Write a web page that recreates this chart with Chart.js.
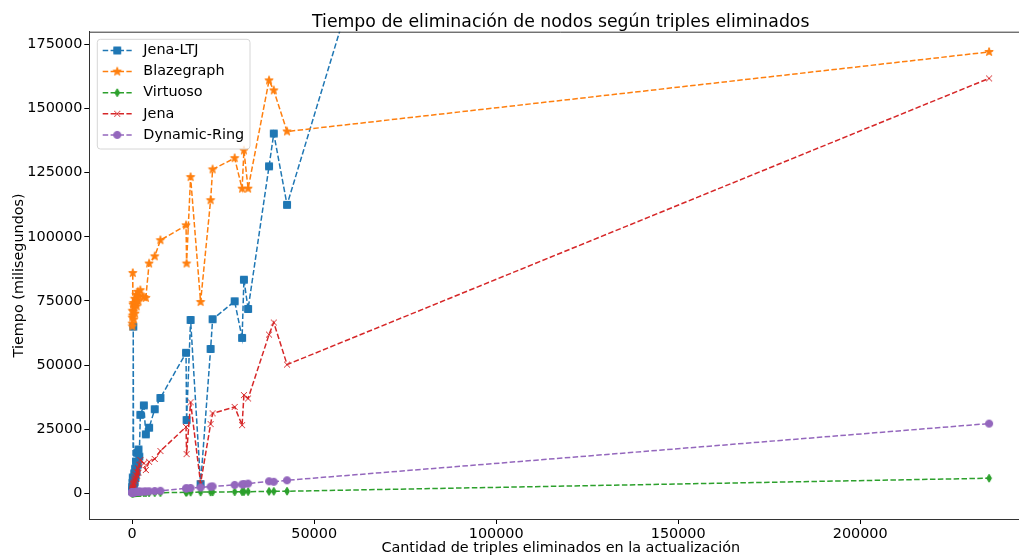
<!DOCTYPE html>
<html>
<head>
<meta charset="utf-8">
<script src="https://cdn.jsdelivr.net/npm/chart.js@4.4.1/dist/chart.umd.min.js"></script>
<style>
  html, body { margin: 0; padding: 0; overflow: hidden; background: #fff; }
  #wrap { width: 1019px; height: 556px; overflow: hidden; }
</style>
</head>
<body>
<div id="wrap"><canvas id="myChart" width="1040" height="556"></canvas></div>
<script>
// triples eliminados por actualizacion (eje x)
var xValues = [15, 30, 50, 80, 120, 170, 230, 300, 380, 470, 570, 680, 800, 930, 1070, 1220, 1380, 1550, 1730, 1950,
  2250, 3200, 3750, 4650, 6200, 7750, 14800, 14950, 16050, 18800, 21550, 22100, 28150, 30200, 30700, 31850,
  37600, 38900, 42550, 235400];

// tiempos en milisegundos
var jenaLtj = [1200, 2500, 800, 4100, 1900, 6200, 3000, 65000, 5200, 2400, 7800, 4300, 9600, 6100, 12400, 8300, 15800, 11200, 17100, 14300,
  30600, 34300, 23000, 25600, 32800, 37200, 54800, 28600, 67600, 3600, 56300, 67900, 74900, 60600, 83300, 71900,
  127500, 140300, 112500, 1015000];
var blazegraph = [66200, 68500, 65100, 71200, 69300, 85900, 73600, 70800, 74200, 67800, 72500, 75900, 70100, 73800, 77400, 72900, 75300, 78600, 74800, 76900,
  79200, 76500, 76200, 89600, 92400, 98700, 104500, 89600, 123300, 74600, 114300, 126300, 130700, 118800, 133700, 118800,
  161000, 157100, 141100, 172100];
var virtuoso = [60, 80, 70, 90, 85, 100, 95, 110, 105, 120, 115, 130, 125, 140, 135, 150, 145, 160, 155, 170,
  160, 170, 180, 200, 220, 250, 400, 420, 450, 480, 500, 520, 600, 620, 640, 660,
  750, 780, 820, 5900];
var jena = [900, 1800, 1200, 2700, 1500, 3600, 2200, 4300, 3100, 5400, 3800, 6200, 4700, 7300, 5600, 8400, 6900, 9800, 8100, 11200,
  13000, 11700, 9100, 12300, 13400, 16500, 25900, 15300, 35500, 3900, 27000, 31200, 33700, 26600, 38300, 37000,
  61900, 66600, 50200, 161800];
var dynamicRing = [300, 350, 320, 380, 360, 420, 400, 450, 430, 480, 460, 520, 500, 550, 540, 590, 570, 620, 610, 660,
  680, 700, 750, 800, 900, 1000, 1900, 2000, 2100, 2300, 2600, 2700, 3300, 3500, 3600, 3800,
  4700, 4500, 5100, 27200];

var xTicks = [0, 50000, 100000, 150000, 200000];
var yTicks = [0, 25000, 50000, 75000, 100000, 125000, 150000, 175000];

var FONT = '"DejaVu Sans"';
var DASH = [5.5, 2.4];

// marcadores estilo matplotlib dibujados en un canvas pequeño
function marker(kind, color) {
  var s = 14, m = 7;
  var c = document.createElement('canvas');
  c.width = s; c.height = s;
  var g = c.getContext('2d');
  g.fillStyle = color; g.strokeStyle = color; g.lineWidth = 1;
  g.beginPath();
  if (kind === 'square') {
    g.rect(m - 3.5, m - 3.5, 7, 7);
  } else if (kind === 'circle') {
    g.arc(m, m, 3.6, 0, Math.PI * 2);
  } else if (kind === 'star') {
    for (var k = 0; k < 10; k++) {
      var r = k % 2 ? 1.8 : 4.4;
      var a = -Math.PI / 2 + k * Math.PI / 5;
      g.lineTo(m + r * Math.cos(a), m + r * Math.sin(a));
    }
  } else if (kind === 'diamond') {
    g.moveTo(m, m - 4); g.lineTo(m + 2.4, m); g.lineTo(m, m + 4); g.lineTo(m - 2.4, m);
  } else if (kind === 'x') {
    g.moveTo(m - 3, m - 3); g.lineTo(m + 3, m + 3);
    g.moveTo(m + 3, m - 3); g.lineTo(m - 3, m + 3);
    g.stroke();
    return c;
  }
  g.closePath();
  g.fill();
  g.stroke();
  return c;
}

var series = [
  { label: "Jena-LTJ", data: jenaLtj, color: "#1f77b4", mark: "square" },
  { label: "Blazegraph", data: blazegraph, color: "#ff7f0e", mark: "star" },
  { label: "Virtuoso", data: virtuoso, color: "#2ca02c", mark: "diamond" },
  { label: "Jena", data: jena, color: "#d62728", mark: "x" },
  { label: "Dynamic-Ring", data: dynamicRing, color: "#9467bd", mark: "circle" }
];

var datasets = series.map(function (s, i) {
  s.img = marker(s.mark, s.color);
  return {
    label: s.label,
    data: xValues.map(function (x, j) { return { x: x, y: s.data[j] }; }),
    borderColor: s.color,
    backgroundColor: s.color,
    borderWidth: 1.5,
    borderDash: DASH,
    pointStyle: s.img,
    pointRadius: 3,
    order: series.length - i,
    tension: 0
  };
});

// titulo, marco y leyenda a mano
var decor = {
  id: 'decor',
  afterDraw: function (chart) {
    var ctx = chart.ctx, a = chart.chartArea;
    ctx.save();
    ctx.strokeStyle = '#333';
    ctx.lineWidth = 1;
    ctx.beginPath();
    ctx.moveTo(a.left, a.top + 0.5);
    ctx.lineTo(a.right, a.top + 0.5);
    ctx.stroke();

    ctx.fillStyle = '#000';
    ctx.font = '17.3px ' + FONT;
    ctx.textAlign = 'center';
    ctx.textBaseline = 'alphabetic';
    ctx.fillText('Tiempo de eliminación de nodos según triples eliminados', (a.left + a.right) / 2, 26.5);

    // leyenda
    var bx = 97.3, by = 39.3, bw = 152.7, bh = 109.7;
    ctx.beginPath();
    ctx.roundRect(bx, by, bw, bh, 3);
    ctx.fillStyle = 'rgba(255,255,255,0.8)';
    ctx.fill();
    ctx.strokeStyle = '#d6d6d6';
    ctx.stroke();

    ctx.font = '14.4px ' + FONT;
    ctx.textAlign = 'left';
    ctx.textBaseline = 'middle';
    series.forEach(function (s, i) {
      var y = 50.5 + i * 21.1;
      ctx.strokeStyle = s.color;
      ctx.lineWidth = 1.5;
      ctx.setLineDash(DASH);
      ctx.beginPath();
      ctx.moveTo(102.7, y);
      ctx.lineTo(131.7, y);
      ctx.stroke();
      ctx.setLineDash([]);
      ctx.drawImage(s.img, 117.2 - 7, y - 7);
      ctx.fillStyle = '#000';
      ctx.fillText(s.label, 143.3, y);
    });
    ctx.restore();
  }
};

new Chart("myChart", {
  type: "line",
  data: { datasets: datasets },
  options: {
    responsive: false,
    animation: false,
    events: [],
    layout: { padding: { left: 0, top: 31.7, right: 7.8, bottom: 0 } },
    plugins: {
      legend: { display: false },
      title: { display: false },
      tooltip: { enabled: false }
    },
    scales: {
      x: {
        type: "linear",
        min: -11775,
        max: 247245,
        afterBuildTicks: function (s) { s.ticks = xTicks.map(function (v) { return { value: v }; }); },
        afterFit: function (s) { s.height = 37; },
        grid: { drawOnChartArea: false, drawTicks: true, tickLength: 5, color: '#000' },
        border: { display: true, color: '#333', width: 1 },
        ticks: {
          padding: 2,
          color: '#000',
          font: { family: FONT, size: 14.4 },
          maxRotation: 0,
          callback: function (v) { return String(v); }
        },
        title: {
          display: true,
          text: "Cantidad de triples eliminados en la actualización",
          color: '#000',
          font: { family: FONT, size: 14.4 },
          padding: { top: 0, bottom: -0.5 }
        }
      },
      y: {
        type: "linear",
        min: -10000,
        max: 180000,
        afterBuildTicks: function (s) { s.ticks = yTicks.map(function (v) { return { value: v }; }); },
        afterFit: function (s) { s.width = 89.3; },
        grid: { drawOnChartArea: false, drawTicks: true, tickLength: 5, color: '#000' },
        border: { display: true, color: '#333', width: 1 },
        ticks: {
          padding: 2,
          color: '#000',
          font: { family: FONT, size: 14.4 },
          callback: function (v) { return String(v); }
        },
        title: {
          display: true,
          text: "Tiempo (milisegundos)",
          color: '#000',
          font: { family: FONT, size: 14.4 },
          padding: { top: 10.9, bottom: 0 }
        }
      }
    }
  },
  plugins: [decor]
});
</script>
</body>
</html>
